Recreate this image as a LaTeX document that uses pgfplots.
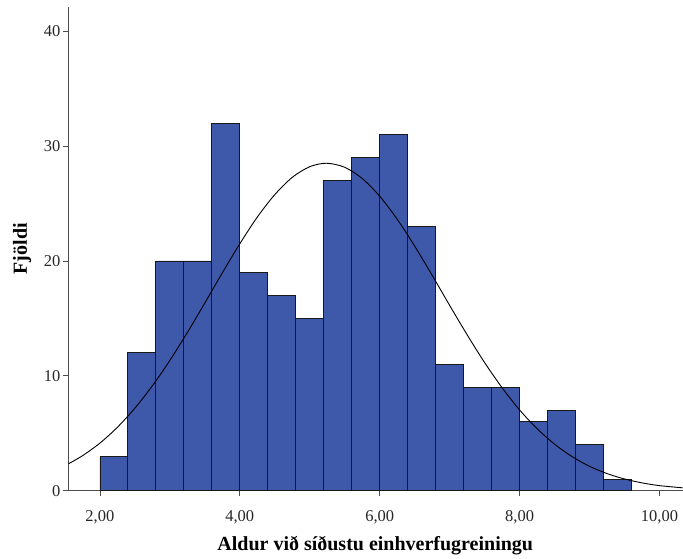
\documentclass[border=0pt]{standalone}
\usepackage{pgfplots}
\pgfplotsset{compat=1.18}
\usepackage{fontspec}
\setmainfont{Liberation Serif}
\definecolor{barblue}{RGB}{62,88,170}
\begin{document}
\begin{tikzpicture}
\begin{axis}[
  scale only axis,
  width=615pt, height=484pt,
  xmin=1.543, xmax=10.33,
  ymin=0, ymax=42.1,
  axis x line*=bottom, axis y line*=left,
  axis line style={black!70, line width=0.8pt},
  xtick={2,4,6,8,10},
  xticklabels={{2,00},{4,00},{6,00},{8,00},{10,00}},
  ytick={0,10,20,30,40},
  tick style={black!70, line width=0.8pt},
  tick align=outside,
  major tick length=5pt,
  /pgf/number format/assume math mode=true,
  ticklabel style={font=\fontsize{16.5}{19}\selectfont, text=black!85},
  xticklabel style={yshift=-11pt},
  yticklabel style={xshift=1pt},
  xlabel={\textbf{Aldur við síðustu einhverfugreiningu}},
  ylabel={\textbf{Fjöldi}},
  label style={font=\fontsize{20}{24}\selectfont},
  xlabel style={yshift=-6pt},
  ylabel style={yshift=6pt},
  clip=false,
]
\addplot[ybar interval, fill=barblue, draw=black!90, line width=0.8pt] coordinates {
(2.0,3) (2.4,12) (2.8,20) (3.2,20) (3.6,32) (4.0,19) (4.4,17) (4.8,15)
(5.2,27) (5.6,29) (6.0,31) (6.4,23) (6.8,11) (7.2,9) (7.6,9) (8.0,6)
(8.4,7) (8.8,4) (9.2,1) (9.6,1)
};
\addplot[black, line width=0.9pt, smooth] coordinates {
(1.55,2.34) (1.75,3.04) (2.0,4.14) (2.25,5.52) (2.5,7.18) (2.75,9.13)
(3.0,11.34) (3.25,13.77) (3.5,16.34) (3.75,18.96) (4.0,21.49) (4.25,23.81)
(4.5,25.77) (4.75,27.27) (5.0,28.20) (5.24,28.5) (5.5,28.15) (5.75,27.17)
(6.0,25.63) (6.25,23.63) (6.5,21.29) (6.75,18.75) (7.0,16.13) (7.25,13.57)
(7.5,11.15) (7.75,8.96) (8.0,7.03) (8.25,5.40) (8.5,4.05) (8.75,2.97)
(9.0,2.12) (9.25,1.49) (9.5,1.02) (9.75,0.68) (10.0,0.44) (10.33,0.25)
};
\end{axis}
\path (current axis.south west) ++(-68pt,-64pt) rectangle ++(683pt,555pt);
\end{tikzpicture}
\end{document}
